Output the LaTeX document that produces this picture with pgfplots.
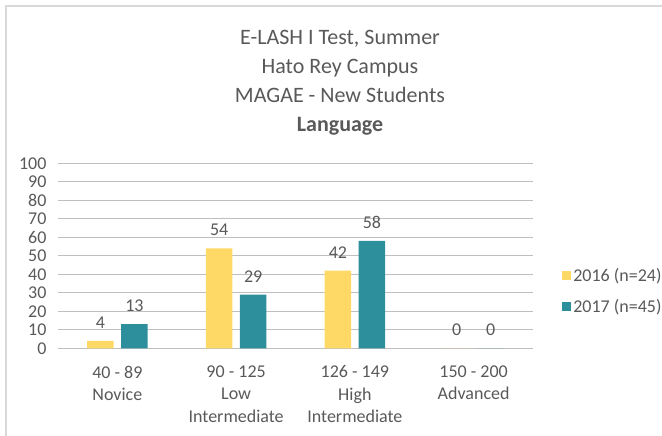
\documentclass[border=0pt]{standalone}
\usepackage{pgfplots}
\pgfplotsset{compat=1.18}
\usepackage{fontspec}
\setmainfont{Carlito}
\definecolor{yel}{HTML}{FFD966}
\definecolor{teal2}{HTML}{2E8F9C}
\definecolor{grid}{HTML}{D9D9D9}
\definecolor{txt}{HTML}{595959}
\begin{document}
\begin{tikzpicture}[x=1bp,y=1bp]
\path[use as bounding box] (0,0) rectangle (662,436);
\draw[grid,line width=2bp] (6,0) -- (6,430) -- (662,430);
\node[txt,anchor=base,font=\fontsize{22bp}{24bp}\selectfont] at (340,391) {E-LASH I Test, Summer};
\node[txt,anchor=base,font=\fontsize{22bp}{24bp}\selectfont] at (340,362) {Hato Rey Campus};
\node[txt,anchor=base,font=\fontsize{22bp}{24bp}\selectfont] at (340,333) {MAGAE - New Students};
\node[txt,anchor=base,font=\fontsize{22bp}{24bp}\selectfont\bfseries] at (340,304) {Language};
\begin{axis}[
  at={(58bp,87.7bp)}, anchor=south west,
  scale only axis, width=475bp, height=185bp,
  ybar=7.3bp, bar width=26.7bp,
  xmin=-0.5, xmax=3.5, ymin=0, ymax=100,
  xtick={0,1,2,3},
  xticklabels={40 - 89\\Novice, 90 - 125\\Low\\Intermediate, 126 - 149\\High\\Intermediate, 150 - 200\\Advanced},
  xticklabel style={align=center, text=txt, font=\fontsize{18bp}{22.5bp}\selectfont, yshift=-14bp},
  ytick={0,10,...,100},
  yticklabel style={text=txt, font=\fontsize{18bp}{18bp}\selectfont, xshift=-8bp},
  /pgf/number format/assume math mode=true,
  ymajorgrids, xmajorgrids=false, grid style={grid, line width=1bp},
  axis line style={draw=none},
  tick style={draw=none},
  major tick length=0pt,
  nodes near coords,
  every node near coord/.append style={text=txt, font=\fontsize{18bp}{18bp}\selectfont, yshift=9bp},
  legend style={at={(1.055,0.31)}, anchor=west, draw=none, fill=none,
    font=\fontsize{18bp}{20bp}\selectfont, text=txt, row sep=12bp,
    /tikz/every odd column/.style={inner sep=0pt}},
  legend cell align=left,
  legend image code/.code={\fill[#1] (0bp,-4.5bp) rectangle (9bp,4.5bp);},
]
\addplot[fill=yel, draw=none] coordinates {(0,4) (1,54) (2,42) (3,0)};
\addplot[fill=teal2, draw=none] coordinates {(0,13) (1,29) (2,58) (3,0)};
\legend{2016 (n=24), 2017 (n=45)}
\end{axis}
\end{tikzpicture}
\end{document}
